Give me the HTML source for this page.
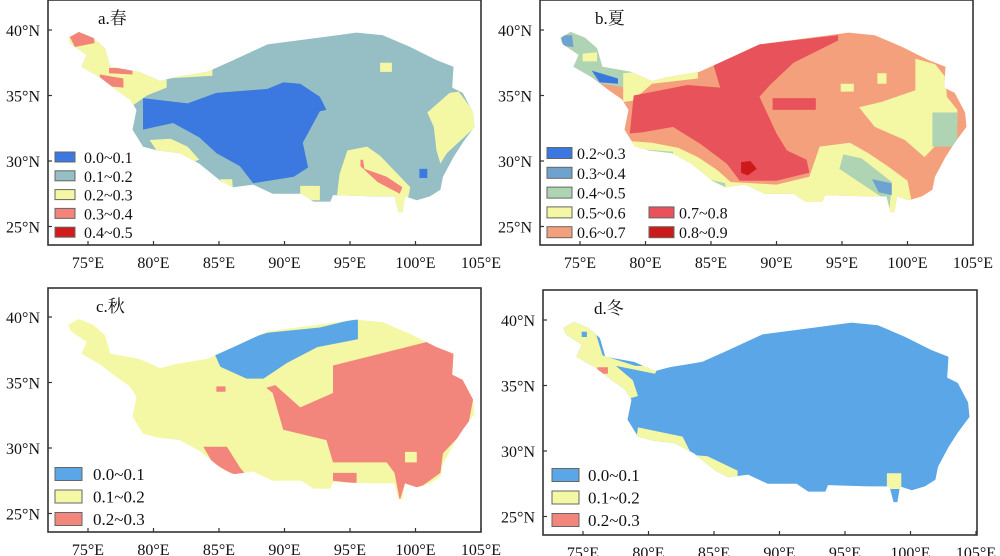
<!DOCTYPE html>
<html><head><meta charset="utf-8">
<style>
html,body{margin:0;padding:0;background:#fff;}
svg{display:block;}
text{font-family:"Liberation Serif","Noto Serif CJK SC",serif;fill:#111;}
</style></head>
<body>
<svg id="fig" width="1000" height="556" viewBox="0 0 1000 556" xmlns="http://www.w3.org/2000/svg"></svg>
<script>
// ---- data (lon, lat) ----
const lonTicks = [75,80,85,90,95,100,105];
const latTicks = [40,35,30,25];
const outline = [[73.5,39.4],[74.3,39.85],[75.4,39.4],[76.3,38.6],[76.7,37.2],[78.9,36.8],[80.5,36.1],[81.6,36.4],[84.1,36.8],[86.1,37.7],[88.7,38.9],[92.5,39.4],[95.5,39.8],[97.5,39.6],[99.6,38.7],[101.6,37.7],[102.9,37.2],[102.8,35.6],[103.6,35.2],[104.4,33.7],[104.5,32.6],[103.6,31.4],[102.9,30.3],[102.1,28.8],[101.9,27.8],[101.1,27.3],[100.1,27],[99.2,27.3],[99,26.1],[98.7,26.1],[98.4,27.3],[96.8,27.3],[93.7,27.4],[93.5,26.9],[92.2,26.9],[91.3,27.5],[89.1,27.5],[87.6,28.2],[86.1,28],[85.1,28.5],[83.5,29.8],[82,30.6],[80.3,30.8],[79.2,31.1],[78.4,32.4],[78.7,33.9],[78.2,34.7],[77.2,35.4],[75.9,36.4],[74.5,37.2],[74.9,38.1],[73.7,38.9]];

const springBase = '#95bfc4';
const springRegions = [
 ['#f4f8a4',[[73,40.5],[81,40.5],[81,35.6],[79.5,35],[78.5,34.3],[73,36]]],
 ['#f4f8a4',[[81,37],[84.5,37.2],[84.5,36.5],[81,36.3]]],
 ['#f2847a',[[73.4,39.9],[75.4,39.9],[75.5,39],[74,38.7]]],
 ['#f2847a',[[76.6,37.1],[78.4,37.1],[78.4,36.6],[76.6,36.7]]],
 ['#f2847a',[[75.9,36.6],[77.7,36.3],[77.7,35.6],[76.5,35.7],[75.9,36.1]]],
 ['#3b78e0',[[79.2,34.8],[82.6,34.4],[84.8,35.2],[88.7,35.5],[89.9,36],[91.2,35.9],[92.7,34.9],[93.2,33.9],[92.7,33.8],[91.4,31.4],[91.8,29.5],[90.7,28.8],[87.6,28.3],[86.6,29.6],[84.8,30.6],[83.5,31.8],[81.5,32.9],[79.2,32.4]]],
 ['#f4f8a4',[[100.9,33.7],[102.6,35.2],[103.3,35.3],[105,33],[102.4,30.6],[101.9,29.8],[101.6,30.8],[101.4,32.6]]],
 ['#f4f8a4',[[94.8,30.8],[96.3,31.1],[97.3,30.4],[99.6,28],[99.2,26],[98.4,26],[98.4,27.3],[94,27.3],[94.2,29]]],
 ['#f2847a',[[95.8,30.1],[96.0,30.1],[96.1,29.4],[97.8,28.8],[99.0,28],[98.8,27.5],[97.1,28.4],[95.8,29.6]]],
 ['#f4f8a4',[[79.7,31.6],[81.3,31.7],[82.6,31.1],[83.5,30.1],[82.6,29.8],[80.3,30.7]]],
 ['#f4f8a4',[[85.1,28.6],[86,28.6],[86.1,27.5],[85,27.5]]],
 ['#f4f8a4',[[91.2,28.1],[92.7,28.1],[92.7,27],[91.2,27]]],
 ['#3b78e0',[[100.3,29.4],[100.9,29.4],[100.9,28.7],[100.3,28.7]]],
 ['#f4f8a4',[[97.3,37.5],[98.2,37.5],[98.2,36.8],[97.3,36.8]]]
];

const summerBase = '#f5a07c';
const summerRegions = [
 ['#aed4b4',[[73,40.5],[80,40.5],[80,36],[78.5,35.6],[73,36.5]]],
 ['#f4f8a4',[[78.3,36.7],[81.5,37],[84,37.2],[84,36.3],[80.5,35.9],[79,34.6],[78.3,34.5]]],
 ['#f4f8a4',[[75.2,38.2],[76.3,38.3],[76.3,37.6],[75.2,37.6]]],
 ['#3a78e0',[[75.9,36.9],[77.9,36.3],[77.9,35.9],[76.5,36]]],
 ['#6fa3cf',[[73.6,39.6],[74.4,39.6],[74.5,38.7],[73.6,38.8]]],
 ['#f4f8a4',[[79,31.5],[80.5,31.4],[82.5,31.0],[84,30.3],[85.5,29.3],[86.5,28.4],[90,28.2],[92.5,28.8],[93.3,31.1],[95.6,31.4],[97,30.6],[98.5,29.6],[100,28.5],[100.5,26],[78,26]]],
 ['#aed4b4',[[79.8,30.9],[82.1,30.7],[82.1,30.1],[79.8,30.3]]],
 ['#aed4b4',[[83.5,28.9],[86.1,28.3],[86.1,27.8],[83.5,28.3]]],
 ['#aed4b4',[[95.1,30.5],[96.5,30.2],[98.8,28.4],[98.6,26],[98.4,27],[96.3,28.4],[94.8,29.4]]],
 ['#6fa3cf',[[97.3,28.6],[98.8,28.3],[98.8,27.4],[97.8,27.6]]],
 ['#e8525a',[[85.2,37.3],[88.5,38.9],[94.7,39.6],[94.7,39.2],[91.3,37.5],[89.5,35.8],[88.7,34.9],[90,32.1],[90.8,30.8],[92.3,30.1],[92.5,29.1],[90,28.5],[87.2,28.5],[86.2,29.8],[84.2,31.3],[82.1,32.6],[79.8,32.2],[78.8,32.1],[79.1,35],[83.2,35.8],[85.7,35.6]]],
 ['#e8525a',[[89.7,34.8],[93.0,34.8],[93.0,33.9],[89.7,33.9]]],
 ['#cc1a1a',[[87.3,29.9],[88.0,30.0],[88.5,29.4],[87.8,28.9],[87.3,29.1]]],
 ['#f4f8a4',[[100.6,37.8],[102.1,37.4],[102.9,36.4],[103,34.9],[103.8,33.9],[103.8,32.9],[101.3,30.3],[99.8,31.6],[97.5,32.6],[96.3,34.1],[98,34.5],[100.6,35.4]]],
 ['#aed4b4',[[101.9,33.7],[103.8,33.7],[103.8,31.1],[101.9,31.1]]],
 ['#f4f8a4',[[94.9,35.9],[95.9,35.9],[95.9,35.3],[94.9,35.3]]],
 ['#f4f8a4',[[97.7,36.7],[98.4,36.7],[98.4,35.9],[97.7,35.9]]]
];

const autumnBase = '#f4f8a4';
const autumnRegions = [
 ['#5aa6e6',[[84.7,37.1],[86.1,38.0],[88.7,38.8],[92.7,39.2],[95.6,39.9],[95.6,38.3],[92.5,37.7],[90.2,36.5],[88.4,35.3],[87.1,35.3],[85.1,36.2]]],
 ['#f2857c',[[93.7,36.3],[100.9,38.1],[102.9,37.2],[103.6,35.2],[104.4,33.7],[104,31.6],[102.1,29.6],[101.9,28.1],[100.1,26.8],[99.2,27.3],[98.8,26.0],[98.4,28.1],[97.8,28.9],[93.7,28.9],[93.2,30.6],[89.9,31.4],[89.1,34.2],[88.6,34.6],[89.3,34.8],[91.2,33.1],[93.7,34.2]]],
 ['#f4f8a4',[[99.2,29.7],[100.1,29.7],[100.1,28.9],[99.2,28.9]]],
 ['#f2857c',[[83.8,30.1],[85.6,30.1],[86.6,28.5],[87.2,27.8],[85.8,28.1],[84.5,28.9]]],
 ['#f2857c',[[93.7,28.1],[95.5,28.1],[95.5,27.3],[93.7,27.5]]],
 ['#f2857c',[[84.8,34.7],[85.5,34.7],[85.5,34.3],[84.8,34.3]]]
];

const winterBase = '#5aa6e6';
const winterRegions = [
 ['#f4f8a4',[[73,40.5],[75.5,40.5],[76.5,37.3],[79,36.5],[80.8,36.5],[80.5,35.9],[77.5,36.5],[78.8,35.4],[79.2,34.2],[78.5,34],[76.5,35.7],[73,37]]],
 ['#5aa6e6',[[74.9,39.1],[75.3,39.1],[75.3,38.7],[74.9,38.7]]],
 ['#f2857c',[[76.1,36.4],[76.9,36.4],[76.9,35.9],[76.1,35.9]]],
 ['#f4f8a4',[[79.2,31.8],[82.6,31.1],[83.3,29.7],[84.5,29.6],[86.8,28.5],[86.8,27.5],[83.9,29.1],[81.1,30.1],[79.1,31.1]]],
 ['#f4f8a4',[[98.2,28.3],[99.3,28.3],[99.3,27.1],[98.2,27.1]]]
];

const springLegend = [['#3b78e0','0.0~0.1'],['#95bfc4','0.1~0.2'],['#f4f8a4','0.2~0.3'],['#f2847a','0.3~0.4'],['#d01c1c','0.4~0.5']];
const summerLegend = [['#3a78e0','0.2~0.3'],['#6fa3cf','0.3~0.4'],['#aed4b4','0.4~0.5'],['#f4f8a4','0.5~0.6'],['#f5a07c','0.6~0.7']];
const summerLegend2 = [['#e8525a','0.7~0.8'],['#cc1a1a','0.8~0.9']];
const autumnLegend = [['#5aa6e6','0.0~0.1'],['#f4f8a4','0.1~0.2'],['#f2857c','0.2~0.3']];
const winterLegend = [['#5aa6e6','0.0~0.1'],['#f4f8a4','0.1~0.2'],['#f2857c','0.2~0.3']];

// ---- drawing ----
const NS = 'http://www.w3.org/2000/svg';
const svg = document.getElementById('fig');
const K = 13.1;
function mk(tag, attrs, parent){const e=document.createElementNS(NS,tag);for(const k in attrs)e.setAttribute(k,attrs[k]);parent.appendChild(e);return e;}

function drawPanel(id, fx, fy, fw, fh, x75, y40, base, regions, title, legend, legendCfg){
  const g = mk('g',{},svg);
  
  
  const xS = lon => x75 + (lon-75)*K;
  const yS = lat => y40 + (40-lat)*K;
  const pts = arr => arr.map(p=>xS(p[0]).toFixed(1)+','+yS(p[1]).toFixed(1)).join(' ');
  const defs = mk('defs',{},g);
  const cp = mk('clipPath',{id:'clip-'+id},defs);
  mk('polygon',{points:pts(outline)},cp);
  const land = mk('polygon',{points:pts(outline),fill:base},g);
  
  
  const rg = mk('g',{'clip-path':'url(#clip-'+id+')'},g);
  regions.forEach((r,i)=>{
    const p = mk('polygon',{points:pts(r[1]),fill:r[0]},rg);
    
    
  });
  const fr = mk('rect',{x:fx,y:fy,width:fw,height:fh,fill:'none',stroke:'#333','stroke-width':1.6},g);
  
  
  lonTicks.forEach(t=>{
    const x = xS(t);
    mk('line',{x1:x,y1:fy+fh,x2:x,y2:fy+fh-4,stroke:'#333','stroke-width':1.2},g);
    const tx = mk('text',{x:x,y:fy+fh+23,'text-anchor':'middle','font-size':16},g);
    tx.textContent = t+'°E';
    
    
  });
  latTicks.forEach(t=>{
    const y = yS(t);
    mk('line',{x1:fx,y1:y,x2:fx+4,y2:y,stroke:'#333','stroke-width':1.2},g);
    const tx = mk('text',{x:fx-8,y:y+6,'text-anchor':'end','font-size':16},g);
    tx.textContent = t+'°N';
    
    
  });
  const tt = mk('text',{x:title[1],y:title[2],'font-size':17},g);
  tt.textContent = title[0];
  
  
  legendCfg.forEach(cfg=>{
    cfg.items.forEach((it,i)=>{
      const cy = cfg.y0 + i*cfg.dy;
      const b = mk('rect',{x:cfg.bx,y:cy-cfg.bh/2,width:cfg.bw,height:cfg.bh,fill:it[0],stroke:'#666','stroke-width':1},g);
      
      
      const lt = mk('text',{x:cfg.bx+cfg.bw+cfg.gap,y:cy+6,'font-size':cfg.fs},g);
      lt.textContent = it[1];
      
      
    });
  });
}

drawPanel('a',48,0,433,245,88,30,springBase,springRegions,['a.春',98,24],springLegend,
  [{items:springLegend,bx:55,y0:157,dy:18.8,bw:20,bh:10,gap:9,fs:16}]);
drawPanel('b',540,0,433,245,580,30,summerBase,summerRegions,['b.夏',595,24],summerLegend,
  [{items:summerLegend,bx:547,y0:153,dy:19.8,bw:25,bh:11,gap:5,fs:16},
   {items:summerLegend2,bx:649,y0:212.4,dy:19.8,bw:25,bh:11,gap:5,fs:16}]);
drawPanel('c',48,288,433,244,88,317,autumnBase,autumnRegions,['c.秋',96,312],autumnLegend,
  [{items:autumnLegend,bx:55,y0:474,dy:22.5,bw:27,bh:13,gap:11,fs:17}]);
drawPanel('d',543,290,434,245,583,320,winterBase,winterRegions,['d.冬',594,314],winterLegend,
  [{items:winterLegend,bx:552,y0:475,dy:22.5,bw:27,bh:13,gap:9,fs:17}]);
</script>
</body></html>
